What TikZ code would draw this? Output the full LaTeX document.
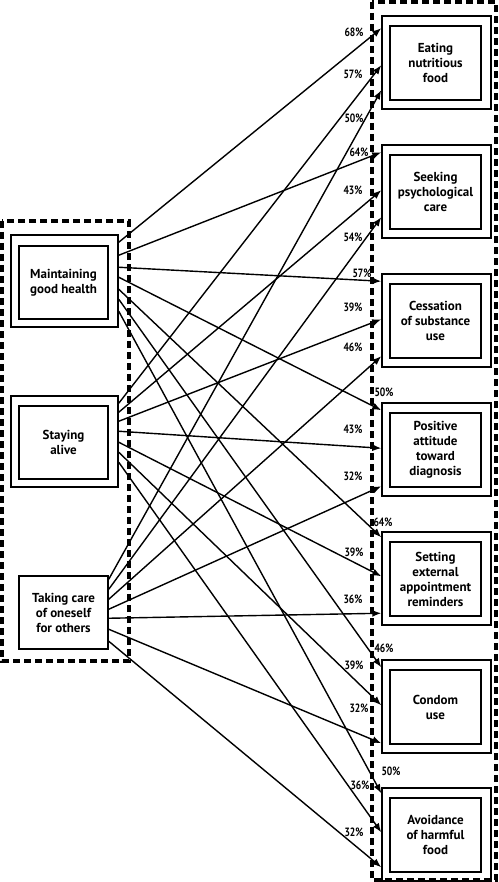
\documentclass[tikz,border=0pt]{standalone}
\usepackage{fontspec}
\setmainfont{PT Sans}
\usetikzlibrary{arrows.meta,calc}
\begin{document}
\begin{tikzpicture}[x=1pt,y=-1pt,
  dashbox/.style={draw,line width=3.2pt,dash pattern=on 7pt off 4pt},
  outerbox/.style={draw,line width=1.5pt,rectangle,minimum width=107pt,minimum height=92pt,inner sep=0pt},
  outerr/.style={draw,line width=1.5pt,rectangle,minimum width=109pt,minimum height=93pt,inner sep=0pt},
  innerbox/.style={draw,line width=1.5pt,rectangle,minimum width=89pt,minimum height=73pt,inner sep=0pt,align=center,font=\bfseries\fontsize{13}{15}\selectfont},
  innerr/.style={draw,line width=1.5pt,rectangle,minimum width=91pt,minimum height=74pt,inner sep=0pt,align=center,font=\bfseries\fontsize{13}{15}\selectfont},
  conn/.style={line width=1.4pt,-{Latex[length=9pt,width=7pt]}},
  pct/.style={font=\bfseries\fontsize{12}{13}\selectfont,inner sep=0pt,xscale=0.8}
]
\useasboundingbox (0,0) rectangle (498,882);
% dashed groups
\draw[dashbox] (2,221) rectangle (129,661);
\draw[dashbox] (372,2) rectangle (496,880);
% sources
\node[outerbox] (mo) at (64.5,281) {};
\node[innerbox] (mi) at (63.5,282.5) {Maintaining\\good health};
\node[outerbox,minimum height=91pt] (so) at (64.5,441.5) {};
\node[innerbox] (si) at (63.5,442.5) {Staying\\alive};
\node[innerbox] (to) at (63.5,612.5) {Taking care\\of oneself\\for others};
% targets
\node[outerr] (eo) at (436.5,62.5) {};
\node[innerr] (ei) at (435.5,63) {Eating\\nutritious\\food};
\node[outerr] (po) at (436.5,191.5) {};
\node[innerr] (pi) at (435.5,192) {Seeking\\psychological\\care};
\node[outerr] (co) at (436.5,320.5) {};
\node[innerr] (ci) at (435.5,321) {Cessation\\of substance\\use};
\node[outerr] (ao) at (436.5,449.5) {};
\node[innerr] (ai) at (435.5,450) {Positive\\attitude\\toward\\diagnosis};
\node[outerr] (ro) at (436.5,578.5) {};
\node[innerr] (ri) at (435.5,579) {Setting\\external\\appointment\\reminders};
\node[outerr] (uo) at (436.5,706.5) {};
\node[innerr] (ui) at (435.5,707) {Condom\\use};
\node[outerr] (ho) at (436.5,834.5) {};
\node[innerr] (hi) at (435.5,835) {Avoidance\\of harmful\\food};
% connectors: Maintaining
\draw[conn] ([yshift=-8pt]mo.north east) -- ([yshift=-13pt]eo.north west);
\draw[conn] ([yshift=-21pt]mo.north east) -- ([yshift=-8pt]po.north west);
\draw[conn] ([yshift=-33pt]mo.north east) -- ([yshift=-8pt]co.north west);
\draw[conn] ([yshift=-43pt]mo.north east) -- ([yshift=-8pt]ao.north west);
\draw[conn] ([yshift=-55pt]mo.north east) -- ([yshift=-6pt]ro.north west);
\draw[conn] ([yshift=-65pt]mo.north east) -- ([yshift=-8pt]uo.north west);
\draw[conn] ([yshift=-77pt]mo.north east) -- ([yshift=-6pt]ho.north west);
% Staying alive
\draw[conn] ([yshift=-8pt]so.north east) -- ([yshift=-50pt]eo.north west);
\draw[conn] ([yshift=-17pt]so.north east) -- ([yshift=-46pt]po.north west);
\draw[conn] ([yshift=-26pt]so.north east) -- ([yshift=-46pt]co.north west);
\draw[conn] ([yshift=-36pt]so.north east) -- ([yshift=-46pt]ao.north west);
\draw[conn] ([yshift=-47pt]so.north east) -- ([yshift=-45pt]ro.north west);
\draw[conn] ([yshift=-57pt]so.north east) -- ([yshift=-46pt]uo.north west);
\draw[conn] ([yshift=-67pt]so.north east) -- ([yshift=-45pt]ho.north west);
% Taking care
\draw[conn] ([yshift=-4pt]to.north east) -- ([yshift=-75pt]eo.north west);
\draw[conn] ([yshift=-14pt]to.north east) -- ([yshift=-73pt]po.north west);
\draw[conn] ([yshift=-24pt]to.north east) -- ([yshift=-83pt]co.north west);
\draw[conn] ([yshift=-34pt]to.north east) -- ([yshift=-84pt]ao.north west);
\draw[conn] ([yshift=-43pt]to.north east) -- ([yshift=-82pt]ro.north west);
\draw[conn] ([yshift=-54pt]to.north east) -- ([yshift=-84pt]uo.north west);
\draw[conn] ([yshift=-66pt]to.north east) -- ([yshift=-80pt]ho.north west);
% percentages
\node[pct] (l1) at (354,32) {68\%};
\node[pct] (l2) at (353,74) {57\%};
\node[pct] (l3) at (354,118) {50\%};
\node[pct] (l4) at (359,152) {64\%};
\node[pct] (l5) at (353,190) {43\%};
\node[pct] (l6) at (353,237) {54\%};
\node[pct] (l7) at (362,273) {57\%};
\node[pct] (l8) at (353,307) {39\%};
\node[pct] (l9) at (353,347) {46\%};
\node[pct] (l10) at (384,392) {50\%};
\node[pct] (l11) at (353,429) {43\%};
\node[pct] (l12) at (353,476) {32\%};
\node[pct] (l13) at (383,522) {64\%};
\node[pct] (l14) at (354,552) {39\%};
\node[pct] (l15) at (353,599) {36\%};
\node[pct] (l16) at (384,648) {46\%};
\node[pct] (l17) at (354,665) {39\%};
\node[pct] (l18) at (359,708) {32\%};
\node[pct] (l19) at (391,771) {50\%};
\node[pct] (l20) at (360,785) {36\%};
\node[pct] (l21) at (354,832) {32\%};
\end{tikzpicture}
\end{document}
